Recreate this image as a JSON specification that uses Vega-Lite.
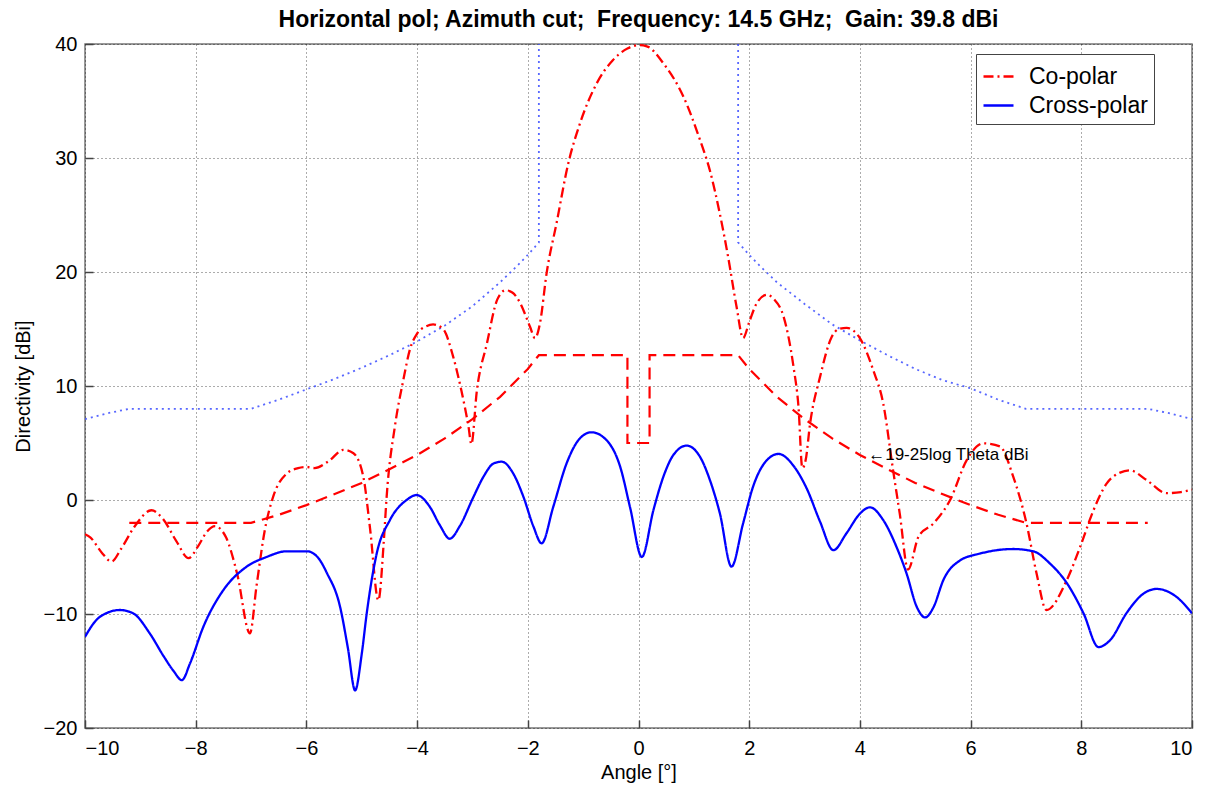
{
  "$schema": "https://vega.github.io/schema/vega-lite/v6.json",
  "width": 1107,
  "height": 684,
  "autosize": {"type": "none"},
  "padding": {"left": 85, "top": 44, "right": 25, "bottom": 66},
  "background": "white",
  "title": {
    "text": "Horizontal pol; Azimuth cut;\u00a0 Frequency: 14.5 GHz;\u00a0 Gain: 39.8 dBi",
    "font": "Liberation Sans",
    "fontSize": 23,
    "fontWeight": "bold",
    "color": "#000",
    "anchor": "middle",
    "offset": 2
  },
  "config": {
    "font": "Liberation Sans",
    "view": {"stroke": "#777", "strokeWidth": 1.5},
    "axis": {
      "labelFont": "Liberation Sans",
      "labelFontSize": 20,
      "labelColor": "#000",
      "titleFont": "Liberation Sans",
      "titleFontSize": 20,
      "titleFontWeight": "normal",
      "titleColor": "#000",
      "grid": true,
      "gridColor": "#000",
      "gridOpacity": 0.65,
      "gridDash": [1, 3],
      "gridWidth": 1,
      "domain": false,
      "tickColor": "#444",
      "tickSize": -8,
      "tickWidth": 1.5
    },
    "legend": {
      "orient": "none",
      "legendX": 891,
      "legendY": 10,
      "padding": 6,
      "fillColor": "white",
      "strokeColor": "#444",
      "labelFont": "Liberation Sans",
      "labelFontSize": 23,
      "labelColor": "#000",
      "labelOffset": 14,
      "rowPadding": 0,
      "symbolType": "stroke",
      "symbolSize": 900,
      "symbolStrokeWidth": 2.5
    }
  },
  "datasets": {
    "curves": [
      {"s":"Co-polar","x":-10,"y":-3.0},{"s":"Co-polar","x":-9.9,"y":-3.3},{"s":"Co-polar","x":-9.7,"y":-4.6},{"s":"Co-polar","x":-9.52,"y":-5.4},{"s":"Co-polar","x":-9.35,"y":-4.3},{"s":"Co-polar","x":-9.1,"y":-2.3},{"s":"Co-polar","x":-8.8,"y":-0.9},{"s":"Co-polar","x":-8.6,"y":-1.6},{"s":"Co-polar","x":-8.35,"y":-3.6},{"s":"Co-polar","x":-8.13,"y":-5.1},{"s":"Co-polar","x":-7.95,"y":-4.0},{"s":"Co-polar","x":-7.8,"y":-2.8},{"s":"Co-polar","x":-7.65,"y":-2.3},{"s":"Co-polar","x":-7.45,"y":-3.3},{"s":"Co-polar","x":-7.25,"y":-6.5},{"s":"Co-polar","x":-7.02,"y":-11.7},{"s":"Co-polar","x":-6.9,"y":-7.5},{"s":"Co-polar","x":-6.75,"y":-2.6},{"s":"Co-polar","x":-6.6,"y":0.3},{"s":"Co-polar","x":-6.36,"y":2.3},{"s":"Co-polar","x":-6.15,"y":2.8},{"s":"Co-polar","x":-6.0,"y":2.9},{"s":"Co-polar","x":-5.85,"y":2.8},{"s":"Co-polar","x":-5.6,"y":3.4},{"s":"Co-polar","x":-5.33,"y":4.4},{"s":"Co-polar","x":-5.15,"y":4.1},{"s":"Co-polar","x":-4.97,"y":2.0},{"s":"Co-polar","x":-4.85,"y":-2.5},{"s":"Co-polar","x":-4.7,"y":-8.8},{"s":"Co-polar","x":-4.6,"y":-3.5},{"s":"Co-polar","x":-4.55,"y":0.3},{"s":"Co-polar","x":-4.4,"y":6.5},{"s":"Co-polar","x":-4.25,"y":10.5},{"s":"Co-polar","x":-4.13,"y":13.2},{"s":"Co-polar","x":-4.0,"y":14.6},{"s":"Co-polar","x":-3.85,"y":15.2},{"s":"Co-polar","x":-3.71,"y":15.4},{"s":"Co-polar","x":-3.53,"y":15.0},{"s":"Co-polar","x":-3.35,"y":12.6},{"s":"Co-polar","x":-3.2,"y":9.6},{"s":"Co-polar","x":-3.07,"y":6.4},{"s":"Co-polar","x":-3.02,"y":4.9},{"s":"Co-polar","x":-2.92,"y":9.6},{"s":"Co-polar","x":-2.74,"y":13.7},{"s":"Co-polar","x":-2.55,"y":17.6},{"s":"Co-polar","x":-2.4,"y":18.4},{"s":"Co-polar","x":-2.28,"y":18.2},{"s":"Co-polar","x":-2.14,"y":17.3},{"s":"Co-polar","x":-1.96,"y":15.2},{"s":"Co-polar","x":-1.87,"y":14.2},{"s":"Co-polar","x":-1.78,"y":15.5},{"s":"Co-polar","x":-1.66,"y":19.9},{"s":"Co-polar","x":-1.48,"y":24.3},{"s":"Co-polar","x":-1.27,"y":29.5},{"s":"Co-polar","x":-1.06,"y":33.0},{"s":"Co-polar","x":-0.76,"y":36.5},{"s":"Co-polar","x":-0.46,"y":38.6},{"s":"Co-polar","x":-0.2,"y":39.6},{"s":"Co-polar","x":0.0,"y":39.9},{"s":"Co-polar","x":0.15,"y":39.8},{"s":"Co-polar","x":0.45,"y":38.3},{"s":"Co-polar","x":0.81,"y":35.4},{"s":"Co-polar","x":1.11,"y":31.6},{"s":"Co-polar","x":1.29,"y":28.9},{"s":"Co-polar","x":1.47,"y":25.1},{"s":"Co-polar","x":1.62,"y":21.3},{"s":"Co-polar","x":1.77,"y":17.0},{"s":"Co-polar","x":1.89,"y":14.2},{"s":"Co-polar","x":2.0,"y":15.6},{"s":"Co-polar","x":2.14,"y":17.3},{"s":"Co-polar","x":2.32,"y":18.0},{"s":"Co-polar","x":2.45,"y":17.6},{"s":"Co-polar","x":2.62,"y":16.1},{"s":"Co-polar","x":2.8,"y":11.7},{"s":"Co-polar","x":2.89,"y":8.2},{"s":"Co-polar","x":2.96,"y":2.8},{"s":"Co-polar","x":3.02,"y":3.5},{"s":"Co-polar","x":3.1,"y":6.7},{"s":"Co-polar","x":3.28,"y":10.8},{"s":"Co-polar","x":3.49,"y":14.3},{"s":"Co-polar","x":3.62,"y":15.0},{"s":"Co-polar","x":3.76,"y":15.1},{"s":"Co-polar","x":4.0,"y":14.2},{"s":"Co-polar","x":4.24,"y":11.4},{"s":"Co-polar","x":4.42,"y":8.5},{"s":"Co-polar","x":4.6,"y":2.6},{"s":"Co-polar","x":4.72,"y":-1.2},{"s":"Co-polar","x":4.87,"y":-6.1},{"s":"Co-polar","x":5.06,"y":-3.2},{"s":"Co-polar","x":5.33,"y":-2.05},{"s":"Co-polar","x":5.63,"y":0.0},{"s":"Co-polar","x":5.93,"y":3.5},{"s":"Co-polar","x":6.23,"y":4.97},{"s":"Co-polar","x":6.53,"y":4.7},{"s":"Co-polar","x":6.77,"y":2.05},{"s":"Co-polar","x":7.01,"y":-2.05},{"s":"Co-polar","x":7.19,"y":-6.4},{"s":"Co-polar","x":7.37,"y":-9.65},{"s":"Co-polar","x":7.74,"y":-7.0},{"s":"Co-polar","x":7.98,"y":-4.1},{"s":"Co-polar","x":8.22,"y":-0.9},{"s":"Co-polar","x":8.46,"y":1.46},{"s":"Co-polar","x":8.7,"y":2.4},{"s":"Co-polar","x":8.88,"y":2.6},{"s":"Co-polar","x":9.18,"y":1.75},{"s":"Co-polar","x":9.54,"y":0.6},{"s":"Co-polar","x":9.8,"y":0.7},{"s":"Co-polar","x":10,"y":0.9},
      {"s":"Cross-polar","x":-10,"y":-12.0},{"s":"Cross-polar","x":-9.79,"y":-10.5},{"s":"Cross-polar","x":-9.6,"y":-9.9},{"s":"Cross-polar","x":-9.37,"y":-9.65},{"s":"Cross-polar","x":-9.13,"y":-9.94},{"s":"Cross-polar","x":-8.83,"y":-11.7},{"s":"Cross-polar","x":-8.58,"y":-13.7},{"s":"Cross-polar","x":-8.4,"y":-15.0},{"s":"Cross-polar","x":-8.25,"y":-15.8},{"s":"Cross-polar","x":-8.1,"y":-14.3},{"s":"Cross-polar","x":-7.86,"y":-11.1},{"s":"Cross-polar","x":-7.5,"y":-7.9},{"s":"Cross-polar","x":-7.08,"y":-5.85},{"s":"Cross-polar","x":-6.72,"y":-5.0},{"s":"Cross-polar","x":-6.36,"y":-4.5},{"s":"Cross-polar","x":-5.99,"y":-4.5},{"s":"Cross-polar","x":-5.8,"y":-5.0},{"s":"Cross-polar","x":-5.63,"y":-6.4},{"s":"Cross-polar","x":-5.39,"y":-9.4},{"s":"Cross-polar","x":-5.25,"y":-13.0},{"s":"Cross-polar","x":-5.12,"y":-16.7},{"s":"Cross-polar","x":-5.0,"y":-13.5},{"s":"Cross-polar","x":-4.91,"y":-9.94},{"s":"Cross-polar","x":-4.73,"y":-4.7},{"s":"Cross-polar","x":-4.49,"y":-1.75},{"s":"Cross-polar","x":-4.19,"y":0.0},{"s":"Cross-polar","x":-4.01,"y":0.44},{"s":"Cross-polar","x":-3.77,"y":-0.6},{"s":"Cross-polar","x":-3.59,"y":-2.2},{"s":"Cross-polar","x":-3.41,"y":-3.4},{"s":"Cross-polar","x":-3.23,"y":-2.3},{"s":"Cross-polar","x":-2.98,"y":0.29},{"s":"Cross-polar","x":-2.8,"y":2.05},{"s":"Cross-polar","x":-2.62,"y":3.2},{"s":"Cross-polar","x":-2.47,"y":3.36},{"s":"Cross-polar","x":-2.26,"y":2.3},{"s":"Cross-polar","x":-2.08,"y":0.29},{"s":"Cross-polar","x":-1.9,"y":-2.3},{"s":"Cross-polar","x":-1.75,"y":-3.8},{"s":"Cross-polar","x":-1.54,"y":-0.6},{"s":"Cross-polar","x":-1.3,"y":3.2},{"s":"Cross-polar","x":-1.06,"y":5.4},{"s":"Cross-polar","x":-0.85,"y":5.94},{"s":"Cross-polar","x":-0.58,"y":5.26},{"s":"Cross-polar","x":-0.33,"y":2.9},{"s":"Cross-polar","x":-0.15,"y":-0.7},{"s":"Cross-polar","x":0.06,"y":-5.0},{"s":"Cross-polar","x":0.27,"y":-0.88},{"s":"Cross-polar","x":0.45,"y":2.05},{"s":"Cross-polar","x":0.63,"y":3.95},{"s":"Cross-polar","x":0.87,"y":4.77},{"s":"Cross-polar","x":1.11,"y":3.8},{"s":"Cross-polar","x":1.29,"y":1.75},{"s":"Cross-polar","x":1.47,"y":-1.17},{"s":"Cross-polar","x":1.68,"y":-5.85},{"s":"Cross-polar","x":1.89,"y":-2.05},{"s":"Cross-polar","x":2.07,"y":1.17},{"s":"Cross-polar","x":2.32,"y":3.5},{"s":"Cross-polar","x":2.53,"y":4.04},{"s":"Cross-polar","x":2.8,"y":3.0},{"s":"Cross-polar","x":3.04,"y":1.0},{"s":"Cross-polar","x":3.28,"y":-1.9},{"s":"Cross-polar","x":3.52,"y":-4.4},{"s":"Cross-polar","x":3.76,"y":-2.9},{"s":"Cross-polar","x":4.0,"y":-1.2},{"s":"Cross-polar","x":4.18,"y":-0.64},{"s":"Cross-polar","x":4.42,"y":-1.75},{"s":"Cross-polar","x":4.66,"y":-4.1},{"s":"Cross-polar","x":4.84,"y":-6.4},{"s":"Cross-polar","x":5.03,"y":-9.4},{"s":"Cross-polar","x":5.18,"y":-10.3},{"s":"Cross-polar","x":5.33,"y":-9.4},{"s":"Cross-polar","x":5.51,"y":-7.0},{"s":"Cross-polar","x":5.81,"y":-5.3},{"s":"Cross-polar","x":6.17,"y":-4.7},{"s":"Cross-polar","x":6.77,"y":-4.3},{"s":"Cross-polar","x":7.13,"y":-4.5},{"s":"Cross-polar","x":7.44,"y":-5.6},{"s":"Cross-polar","x":7.74,"y":-7.3},{"s":"Cross-polar","x":8.04,"y":-9.94},{"s":"Cross-polar","x":8.31,"y":-12.9},{"s":"Cross-polar","x":8.52,"y":-12.3},{"s":"Cross-polar","x":8.82,"y":-9.9},{"s":"Cross-polar","x":9.1,"y":-8.3},{"s":"Cross-polar","x":9.36,"y":-7.8},{"s":"Cross-polar","x":9.72,"y":-8.5},{"s":"Cross-polar","x":10,"y":-9.94}
    ],
    "upper": [
      {"seg":"L","i":1,"x":-10,"y":7.1},{"seg":"L","i":2,"x":-9.6,"y":7.6},{"seg":"L","i":3,"x":-9.2,"y":8.0},{"seg":"L","i":4,"x":-7.0,"y":8.0},{"seg":"L","i":5,"x":-6.5,"y":8.8},{"seg":"L","i":6,"x":-6.0,"y":9.7},{"seg":"L","i":7,"x":-5.5,"y":10.6},{"seg":"L","i":8,"x":-5.0,"y":11.6},{"seg":"L","i":9,"x":-4.5,"y":12.7},{"seg":"L","i":10,"x":-4.0,"y":13.9},{"seg":"L","i":11,"x":-3.5,"y":15.3},{"seg":"L","i":12,"x":-3.0,"y":17.0},{"seg":"L","i":13,"x":-2.5,"y":19.1},{"seg":"L","i":14,"x":-2.2,"y":20.5},{"seg":"L","i":15,"x":-2.0,"y":21.5},{"seg":"L","i":16,"x":-1.8,"y":22.6},{"seg":"L","i":17,"x":-1.8,"y":40},
      {"seg":"R","i":1,"x":1.8,"y":40},{"seg":"R","i":2,"x":1.8,"y":22.6},{"seg":"R","i":3,"x":2.0,"y":21.5},{"seg":"R","i":4,"x":2.2,"y":20.5},{"seg":"R","i":5,"x":2.5,"y":19.1},{"seg":"R","i":6,"x":3.0,"y":17.2},{"seg":"R","i":7,"x":3.5,"y":15.4},{"seg":"R","i":8,"x":4.0,"y":14.0},{"seg":"R","i":9,"x":4.5,"y":12.7},{"seg":"R","i":10,"x":5.0,"y":11.5},{"seg":"R","i":11,"x":5.5,"y":10.5},{"seg":"R","i":12,"x":6.0,"y":9.8},{"seg":"R","i":13,"x":6.5,"y":8.8},{"seg":"R","i":14,"x":7.0,"y":8.0},{"seg":"R","i":15,"x":9.2,"y":8.0},{"seg":"R","i":16,"x":9.6,"y":7.6},{"seg":"R","i":17,"x":10,"y":7.1}
    ],
    "lower": [
      {"i":1,"x":-9.2,"y":-2.0},{"i":2,"x":-7.0,"y":-2.0},{"i":3,"x":-6.5,"y":-1.3},{"i":4,"x":-6.0,"y":-0.45},{"i":5,"x":-5.5,"y":0.5},{"i":6,"x":-5.0,"y":1.5},{"i":7,"x":-4.5,"y":2.7},{"i":8,"x":-4.0,"y":3.95},{"i":9,"x":-3.5,"y":5.4},{"i":10,"x":-3.0,"y":7.1},{"i":11,"x":-2.5,"y":9.05},{"i":12,"x":-2.0,"y":11.5},{"i":13,"x":-1.8,"y":12.7},{"i":14,"x":-0.2,"y":12.7},{"i":15,"x":-0.2,"y":5.0},{"i":16,"x":0.2,"y":5.0},{"i":17,"x":0.2,"y":12.7},{"i":18,"x":1.8,"y":12.7},{"i":19,"x":2.0,"y":11.5},{"i":20,"x":2.5,"y":9.05},{"i":21,"x":3.0,"y":7.1},{"i":22,"x":3.5,"y":5.4},{"i":23,"x":4.0,"y":3.95},{"i":24,"x":4.5,"y":2.7},{"i":25,"x":5.0,"y":1.5},{"i":26,"x":5.5,"y":0.5},{"i":27,"x":6.0,"y":-0.45},{"i":28,"x":6.5,"y":-1.3},{"i":29,"x":7.0,"y":-2.0},{"i":30,"x":9.2,"y":-2.0}
    ],
    "note": [
      {"x":4.15,"y":3.95,"label":"←19-25log Theta dBi"}
    ]
  },
  "encoding": {
    "x": {
      "field": "x", "type": "quantitative",
      "scale": {"domain": [-10, 10], "nice": false, "zero": false},
      "axis": {"title": "Angle [°]", "values": [-10,-8,-6,-4,-2,0,2,4,6,8,10], "labelPadding": 18, "titlePadding": 4}
    },
    "y": {
      "field": "y", "type": "quantitative",
      "scale": {"domain": [-20, 40], "nice": false, "zero": false},
      "axis": {"title": "Directivity [dBi]", "values": [-20,-10,0,10,20,30,40], "labelPadding": 16, "titlePadding": 10}
    }
  },
  "layer": [
    {
      "data": {"name": "upper"},
      "mark": {"type": "line", "color": "#3b4cff", "strokeWidth": 1.8, "strokeDash": [2, 4], "opacity": 0.85, "clip": true},
      "encoding": {
        "detail": {"field": "seg"},
        "order": {"field": "i", "type": "quantitative"}
      }
    },
    {
      "data": {"name": "lower"},
      "mark": {"type": "line", "color": "#ff0000", "strokeWidth": 2.2, "strokeDash": [12, 7], "clip": true},
      "encoding": {
        "order": {"field": "i", "type": "quantitative"}
      }
    },
    {
      "data": {"name": "curves"},
      "mark": {"type": "line", "strokeWidth": 2.3, "interpolate": "monotone", "clip": true},
      "encoding": {
        "color": {
          "field": "s", "type": "nominal",
          "scale": {"domain": ["Co-polar", "Cross-polar"], "range": ["#ff0000", "#0000ff"]},
          "legend": {"title": null}
        },
        "strokeDash": {
          "field": "s", "type": "nominal",
          "scale": {"domain": ["Co-polar", "Cross-polar"], "range": [[10, 4, 2, 4], [1, 0]]},
          "legend": {"title": null}
        }
      }
    },
    {
      "data": {"name": "note"},
      "mark": {"type": "text", "align": "left", "baseline": "middle", "font": "Liberation Sans", "fontSize": 17, "color": "#000"},
      "encoding": {
        "text": {"field": "label"}
      }
    }
  ]
}
